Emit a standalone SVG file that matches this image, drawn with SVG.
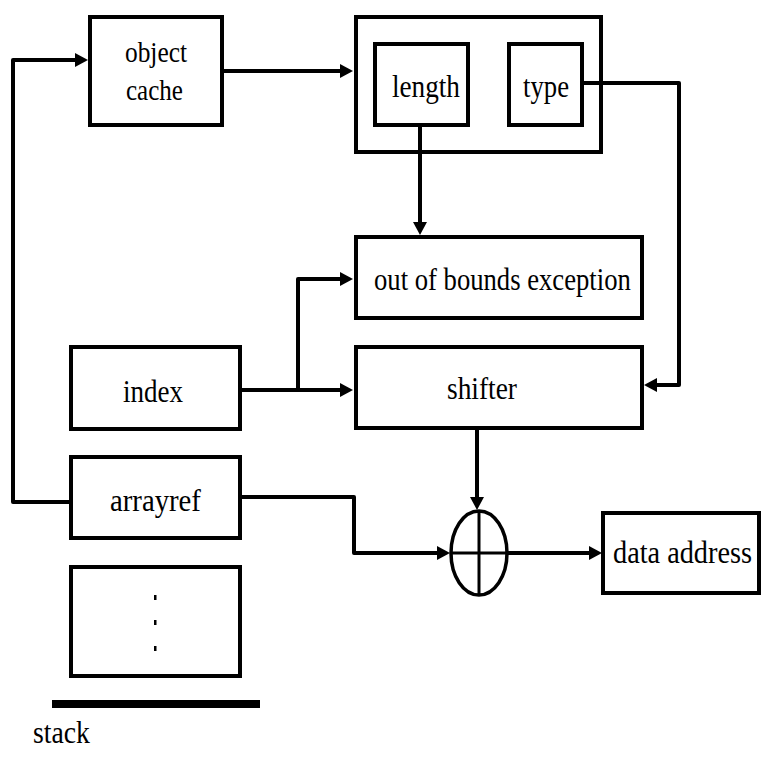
<svg xmlns="http://www.w3.org/2000/svg" width="763" height="758" viewBox="0 0 763 758">
  <style>
    .box { fill: #fff; stroke: #000; stroke-width: 4; }
    .wire { fill: none; stroke: #000; stroke-width: 4; stroke-linejoin: round; }
    .lbl { font-family: 'Liberation Serif', serif; font-size: 32px; fill: #000; }
  </style>
  <defs>
    <marker id="arrow" markerUnits="userSpaceOnUse" markerWidth="14" markerHeight="16" refX="0" refY="8" orient="auto">
      <path d="M0,1 L13,8 L0,15 z" fill="#000"/>
    </marker>
  </defs>

  <!-- operand stack -->
  <g id="index">
    <rect class="box" x="71" y="347" width="169" height="82"/>
    <text class="lbl" transform="translate(123,402) scale(0.844,1)">index</text>
  </g>
  <g id="arrayref">
    <rect class="box" x="71" y="457" width="169" height="81"/>
    <text class="lbl" transform="translate(110,511) scale(0.899,1)">arrayref</text>
  </g>
  <g id="stack-more">
    <rect class="box" x="71" y="567" width="169" height="109"/>
    <rect x="154" y="595" width="2.5" height="5" fill="#000"/>
    <rect x="154" y="620" width="2.5" height="5" fill="#000"/>
    <rect x="154" y="646" width="2.5" height="5" fill="#000"/>
  </g>
  <g id="stack-base">
    <rect x="52" y="700" width="208" height="8" fill="#000"/>
    <text class="lbl" transform="translate(33,743) scale(0.866,1)">stack</text>
  </g>

  <!-- object cache -->
  <g id="object-cache">
    <rect class="box" x="90" y="17" width="132" height="108"/>
    <text class="lbl" style="font-size:30px" transform="translate(125,62) scale(0.846,1)">object</text>
    <text class="lbl" style="font-size:30px" transform="translate(126,100) scale(0.835,1)">cache</text>
  </g>

  <!-- array header with its two fields -->
  <g id="array-header">
    <rect class="box" x="356" y="17" width="245" height="135"/>
  </g>
  <g id="length">
    <rect class="box" x="375" y="44" width="93" height="81"/>
    <text class="lbl" transform="translate(392,97) scale(0.85,1)">length</text>
  </g>
  <g id="type">
    <rect class="box" x="509" y="44" width="73" height="81"/>
    <text class="lbl" transform="translate(523,97) scale(0.835,1)">type</text>
  </g>

  <g id="out-of-bounds">
    <rect class="box" x="356" y="237" width="286" height="81"/>
    <text class="lbl" transform="translate(374,290) scale(0.833,1)">out of bounds exception</text>
  </g>
  <g id="shifter">
    <rect class="box" x="356" y="347" width="286" height="81"/>
    <text class="lbl" transform="translate(447,399) scale(0.856,1)">shifter</text>
  </g>

  <g id="adder">
    <ellipse cx="479" cy="553" rx="28" ry="42" fill="#fff" stroke="#000" stroke-width="3.5"/>
    <line x1="479" y1="511" x2="479" y2="595" stroke="#000" stroke-width="3"/>
    <line x1="451" y1="553" x2="507" y2="553" stroke="#000" stroke-width="3"/>
  </g>

  <g id="data-address">
    <rect class="box" x="603" y="513" width="156" height="80"/>
    <text class="lbl" transform="translate(613,563) scale(0.884,1)">data address</text>
  </g>

  <!-- connectors -->
  <g id="connectors">
    <!-- arrayref back up to the object cache -->
    <polyline class="wire" points="71,502 13,502 13,60 75,60" marker-end="url(#arrow)"/>
    <!-- object cache to array header -->
    <polyline class="wire" points="222,71 340,71" marker-end="url(#arrow)"/>
    <!-- length to bounds check -->
    <polyline class="wire" points="420,125 420,222" stroke-width="3.5" marker-end="url(#arrow)"/>
    <!-- type to shifter -->
    <polyline class="wire" points="582,83 679,83 679,385 657,385" stroke-width="3.5" marker-end="url(#arrow)"/>
    <!-- index to shifter and bounds check -->
    <polyline class="wire" points="240,390 340,390" marker-end="url(#arrow)"/>
    <polyline class="wire" points="298,390 298,279 340,279" marker-end="url(#arrow)"/>
    <!-- shifter to adder -->
    <polyline class="wire" points="477,428 477,497" stroke-width="3.5" marker-end="url(#arrow)"/>
    <!-- arrayref to adder -->
    <polyline class="wire" points="240,497 354,497 354,553 437,553" marker-end="url(#arrow)"/>
    <!-- adder to data address -->
    <polyline class="wire" points="507,553 589,553" marker-end="url(#arrow)"/>
  </g>
</svg>
